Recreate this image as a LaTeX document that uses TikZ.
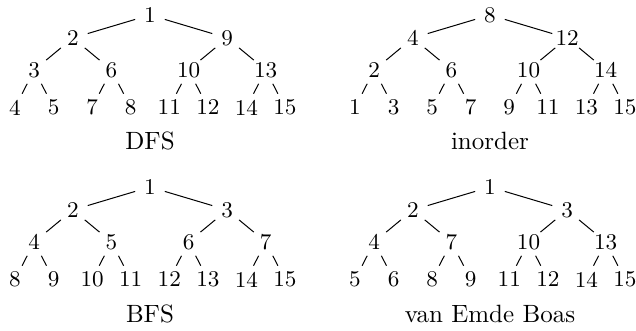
\documentclass[tikz,border=0pt]{standalone}
\begin{document}
\tikzset{
  num/.style={circle, inner sep=0pt, minimum size=12pt, font=\small},
  edge/.style={draw, line width=0.4pt},
  lab/.style={anchor=base, inner sep=0pt, font=\normalsize}
}
\newcommand\bintree[4]{%
  \foreach \i/\lab in {#4}{%
    \pgfmathtruncatemacro\lev{\i<2?0:(\i<4?1:(\i<8?2:3))}%
    \pgfmathsetmacro\xx{#2-4.29+(\i-2^\lev+0.5)*308.57/2^\lev}%
    \pgfmathsetmacro\yy{#3+{15,38,70,107.5}[\lev]}%
    \node[num] (#1\i) at (\xx,\yy) {\lab};
  }%
  \foreach \i in {2,...,15}{%
    \pgfmathtruncatemacro\p{floor(\i/2)}%
    \draw[edge] (#1\p) -- (#1\i);
  }%
}
\begin{tikzpicture}[x=0.4pt, y=-0.4pt]
\useasboundingbox (0,0) rectangle (636,331);
\bintree{a}{0}{0}{1/1,2/2,3/9,4/3,5/6,6/10,7/13,8/4,9/5,10/7,11/8,12/11,13/12,14/14,15/15}
\bintree{b}{340}{0}{1/8,2/4,3/12,4/2,5/6,6/10,7/14,8/1,9/3,10/5,11/7,12/9,13/11,14/13,15/15}
\bintree{c}{0}{172}{1/1,2/2,3/3,4/4,5/5,6/6,7/7,8/8,9/9,10/10,11/11,12/12,13/13,14/14,15/15}
\bintree{d}{340}{172}{1/1,2/2,3/3,4/4,5/7,6/10,7/13,8/5,9/6,10/8,11/9,12/11,13/12,14/14,15/15}
\node[lab] (ta) at (150,150) {DFS};
\node[lab] (tb) at (490,150) {inorder};
\node[lab] (tc) at (150,322.5) {BFS};
\node[lab] (td) at (490,322.5) {van Emde Boas};
\end{tikzpicture}
\end{document}
